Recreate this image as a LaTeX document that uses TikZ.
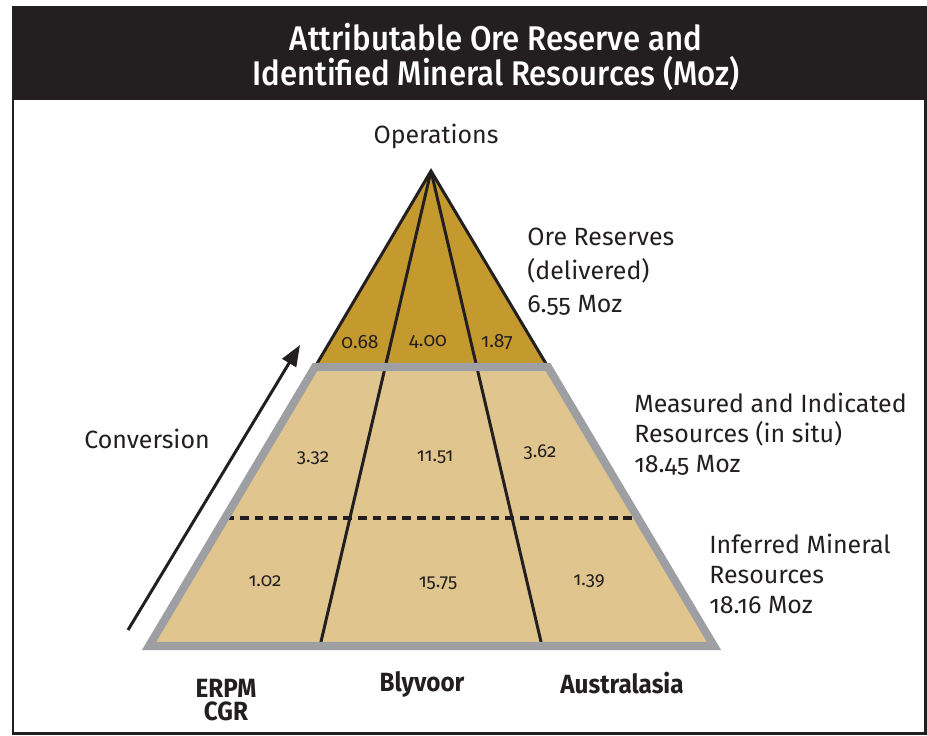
\documentclass[tikz,border=0pt]{standalone}
\usepackage{fontspec}
\setmainfont[Numbers=OldStyle]{Fira Sans}
\newfontfamily\titlefont[FakeStretch=0.91]{Fira Sans Medium}
\newfontfamily\sitefont[FakeStretch=0.92]{Fira Sans}
\usetikzlibrary{arrows.meta}

\definecolor{inkblack}{HTML}{231F20}
\definecolor{reservegold}{HTML}{C49A2F}
\definecolor{resourcetan}{HTML}{E0C68E}
\definecolor{rimgray}{HTML}{9D9FA2}

\tikzset{
    divider/.style = {inkblack, line width=1.7pt, line join=miter},
    dashline/.style = {inkblack, line width=1.8pt, dash pattern=on 5pt off 3.4pt},
    rim/.style = {rimgray, line width=4.6pt, line join=miter},
    convarrow/.style = {inkblack, line width=1.7pt, -{Triangle[length=12pt,width=9pt]}},
    titletext/.style = {text=white, align=center, inner sep=0pt, font=\titlefont\fontsize{19.5}{19.5}\selectfont},
    label/.style = {text=inkblack, align=left, inner sep=0pt, anchor=north west, font=\fontsize{14.2}{17}\selectfont},
    orenum/.style = {text=inkblack, inner sep=0pt, font=\fontsize{11}{13}\selectfont},
    resnum/.style = {text=inkblack, inner sep=0pt, font=\fontsize{10.7}{12}\selectfont},
    site/.style = {text=inkblack, align=center, inner sep=0pt, font=\sitefont\bfseries\fontsize{15}{13.5}\selectfont}
}

\begin{document}
\begin{tikzpicture}[x=0.02cm, y=-0.02cm]
    \useasboundingbox (0,0) rectangle (927,735);
    % frame and title band
    \fill[inkblack] (13,7) rectangle (925,100);
    \draw[inkblack, line width=1.7pt] (13,7) rectangle (925,733);
    \node[titletext] (title) at (496,57) {Attributable Ore Reserve and\\Identified Mineral Resources (Moz)};

    % pyramid corners
    \coordinate (apex) at (431,171);
    \coordinate (oreL) at (315,367);
    \coordinate (oreR) at (548,367);
    \coordinate (baseL) at (149,646);
    \coordinate (baseR) at (714,646);
    \coordinate (divL) at (320,646);
    \coordinate (divR) at (542,646);
    \coordinate (dashL) at (225,518);
    \coordinate (dashR) at (638,518);

    \fill[reservegold] (apex) -- (oreL) -- (oreR) -- cycle;
    \fill[resourcetan] (oreL) -- (baseL) -- (baseR) -- (oreR) -- cycle;
    \draw[dashline] (dashL) -- (dashR);
    \draw[divider] (apex) -- (divL);
    \draw[divider] (apex) -- (divR);
    \draw[divider] (oreL) -- (apex) -- (oreR);
    \draw[rim] (oreL) -- (baseL) -- (baseR) -- (oreR) -- cycle;

    % conversion arrow
    \coordinate (convfrom) at (128,630);
    \coordinate (convto) at (300,345);
    \draw[convarrow] (convfrom) -- (convto);
    \node[label, anchor=center] (conversion) at (147,439) {Conversion};

    % values per site
    \node[orenum] (oreerpm) at (360,342) {0.68};
    \node[orenum] (oreblyv) at (428,342) {4.00};
    \node[orenum] (oreaus) at (497,342) {1.87};
    \node[resnum] (miderpm) at (313,458) {3.32};
    \node[resnum] (midblyv) at (435,457) {11.51};
    \node[resnum] (midaus) at (540,452) {3.62};
    \node[resnum] (inferpm) at (265,581) {1.02};
    \node[resnum] (infblyv) at (438,583) {15.75};
    \node[resnum] (infaus) at (589,581) {1.39};

    % categories
    \node[label, anchor=center] (operations) at (436,136) {Operations};
    \node[label, font=\fontsize{14.2}{19}\selectfont] (reserves) at (527,228) {Ore Reserves\\(delivered)\\6.55 Moz};
    \node[label] (measured) at (634,393) {Measured and Indicated\\Resources (in situ)\\18.45 Moz};
    \node[label] (inferred) at (709,534) {Inferred Mineral\\Resources\\18.16 Moz};

    % sites
    \node[site] (erpm) at (226,700) {ERPM\\CGR};
    \node[site] (blyvoor) at (422,684) {Blyvoor};
    \node[site] (australasia) at (622,683) {Australasia};
\end{tikzpicture}
\end{document}
